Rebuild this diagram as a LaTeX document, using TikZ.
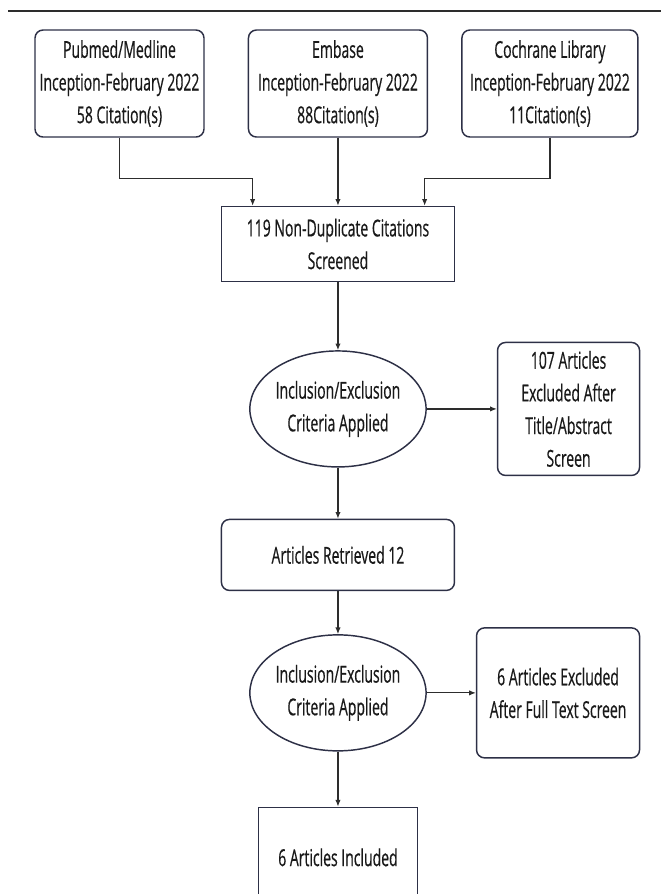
\documentclass[tikz,border=0pt]{standalone}
\usepackage{fontspec}
\setmainfont{Open Sans}[FakeStretch=0.6, FakeBold=0.5]
\usepackage{tikz}
\usetikzlibrary{positioning, shapes.geometric, arrows.meta}
\definecolor{edge}{RGB}{45,48,70}
\definecolor{wire}{RGB}{45,45,45}
\definecolor{ink}{RGB}{25,25,25}

\begin{document}
\begin{tikzpicture}[
      x=0.75pt, y=-0.75pt,
      node distance = 51pt and 32pt,
      every node/.style = {font=\fontsize{17.5}{24.5}\selectfont, text=ink},
      box/.style   = {draw=edge, line width=1.1pt, align=center, inner sep=0pt},
      rbox/.style  = {box, rounded corners=6pt},
      crit/.style  = {box, ellipse, minimum width=114.75pt, minimum height=87pt},
      arr/.style   = {-{Latex[length=5pt,width=4pt]}, draw=wire, line width=0.85pt}]
    \useasboundingbox (0,0) rectangle (661,894);
    \draw[wire, line width=2.2pt] (8,11) -- (661,11);
    % row 1: the three databases
    \node[rbox, minimum width=126.75pt, minimum height=80.25pt] (pubmed) at (119.5,83.5)
         {Pubmed/Medline\\Inception-February 2022\\58 Citation(s)};
    \node[rbox, minimum width=134.25pt, minimum height=80.25pt, right=32.25pt of pubmed] (embase)
         {Embase\\Inception-February 2022\\88Citation(s)};
    \node[rbox, minimum width=132pt, minimum height=80.25pt, right=24.75pt of embase] (cochrane)
         {Cochrane Library\\Inception-February 2022\\11Citation(s)};
    % main column of screening steps
    \node[box, minimum width=174.75pt, minimum height=56.25pt, below=of embase] (dedup)
         {119 Non-Duplicate Citations\\Screened};
    \node[crit, below=of dedup] (crit1) {Inclusion/Exclusion\\Criteria Applied};
    \node[rbox, minimum width=174.75pt, minimum height=53.25pt, below=38.25pt of crit1] (retr)
         {Articles Retrieved 12};
    \node[crit, below=32.25pt of retr] (crit2) {Inclusion/Exclusion\\Criteria Applied};
    \node[box, minimum width=119.25pt, minimum height=75pt, below=41.25pt of crit2] (incl)
         {6 Articles Included};
    % exclusions on the right
    \node[rbox, minimum width=106.5pt, minimum height=99.75pt, right=52.5pt of crit1] (excl1)
         {107 Articles\\Excluded After\\Title/Abstract\\Screen};
    \node[rbox, minimum width=122.25pt, minimum height=97.5pt, right=36.75pt of crit2] (excl2)
         {6 Articles Excluded\\After Full Text Screen};
    \coordinate[left=64pt of dedup.north]  (in1);
    \coordinate[right=65pt of dedup.north] (in3);
    \draw[arr] (pubmed.south) -- ++(0,-30.75pt) -| (in1);
    \draw[arr] (embase.south) -- (embase.south |- dedup.north);
    \draw[arr] (cochrane.south) -- ++(0,-30.75pt) -| (in3);
    \draw[arr] (dedup) -- (crit1);
    \draw[arr] (crit1) -- (excl1);
    \draw[arr] (crit1) -- (retr);
    \draw[arr] (retr) -- (crit2);
    \draw[arr] (crit2) -- (excl2);
    \draw[arr] (crit2) -- (incl);
  \end{tikzpicture}
\end{document}
